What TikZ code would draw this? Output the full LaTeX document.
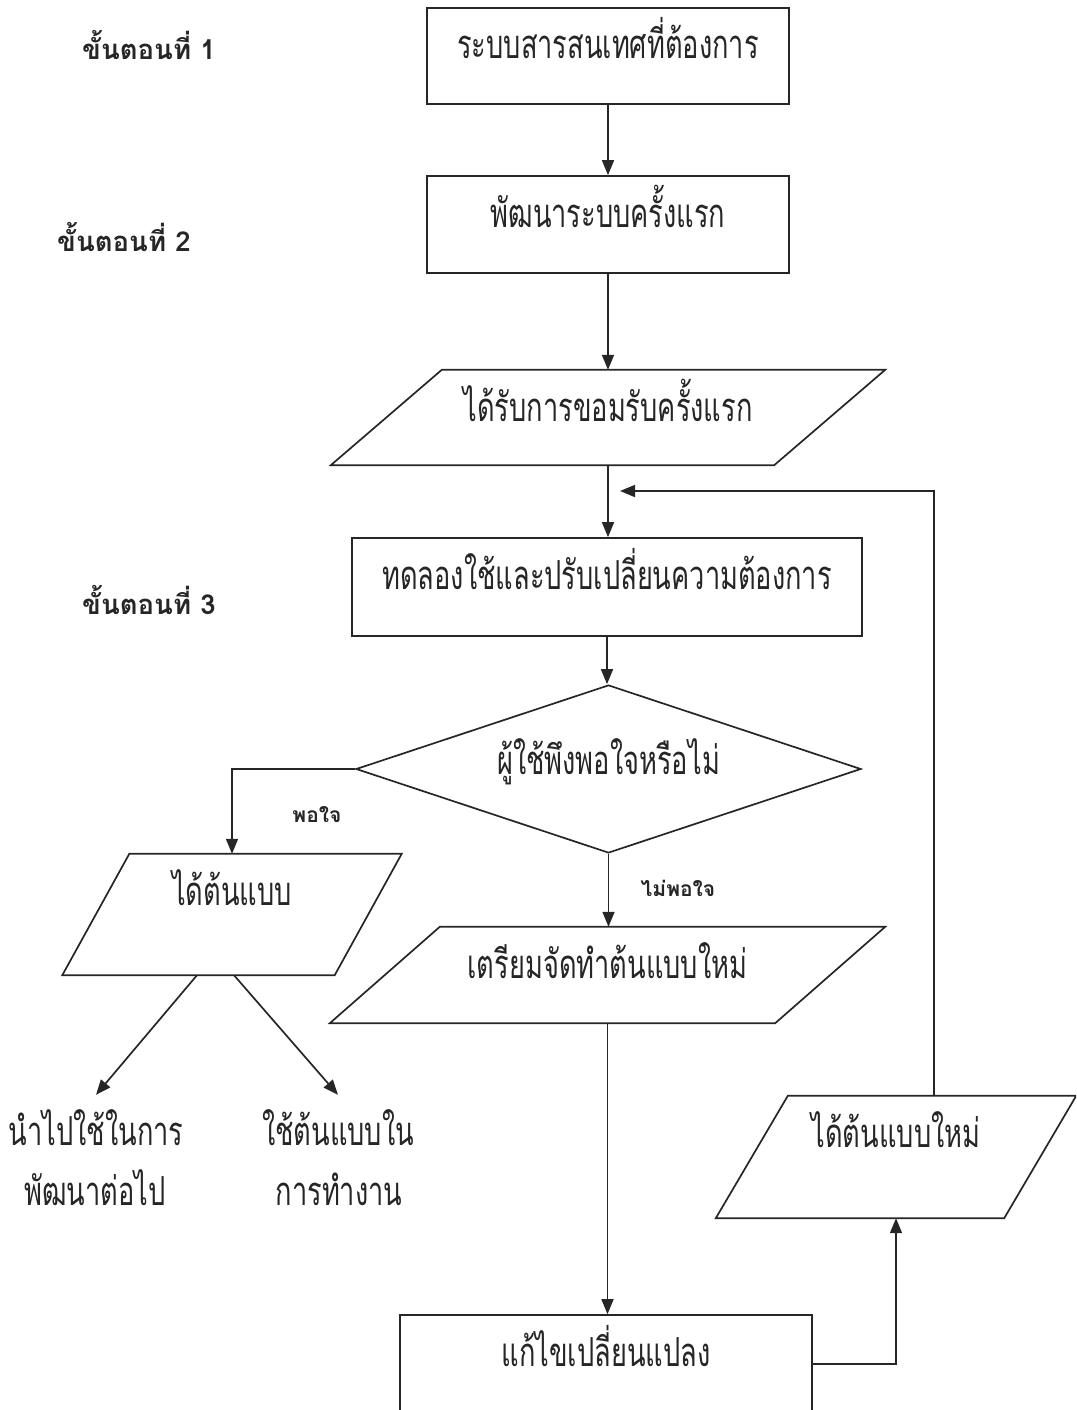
\documentclass[tikz,border=0pt]{standalone}
\usepackage{fontspec}
\newfontfamily\thai[Script=Thai,FakeStretch=0.68]{Loma}
\newfontfamily\thaiwide[Script=Thai]{Loma}
\usetikzlibrary{shapes.geometric,arrows.meta}
\begin{document}
\begin{tikzpicture}[x=1pt,y=-1pt,
  ink/.style={draw=black!85, line width=1.7pt},
  arr/.style={ink, -{Triangle[length=15pt,width=12pt]}},
  body/.style={font=\thai\fontsize{40}{48}\selectfont, text=black!85},
  shp/.style={body, inner sep=0pt, text depth=30pt, text height=#1},
  box/.style={shp=#1, ink, rectangle},
  para/.style={shp=#1, rectangle},
  dec/.style={shp=#1, ink, diamond},
  plain/.style={body, inner sep=0pt, text height=50pt, anchor=base},
  steplabel/.style={font=\thaiwide\bfseries\fontsize{27.5}{33}\selectfont, text=black!85, inner sep=0pt, anchor=base west},
  answer/.style={font=\thaiwide\bfseries\fontsize{21}{25}\selectfont, text=black!85, inner sep=0pt, anchor=base}
]
\newcommand\slantframe[2]{\draw[ink] ([xshift=-#2]#1.south west) -- ([xshift=#2]#1.north west) -- ([xshift=#2]#1.north east) -- ([xshift=-#2]#1.south east) -- cycle;}
\clip (0,0) rectangle (1076,1410);

% step labels
\node[steplabel] (s1) at (82,60) {ขั้นตอนที่ 1};
\node[steplabel] (s2) at (57,251) {ขั้นตอนที่ 2};
\node[steplabel] (s3) at (82,614) {ขั้นตอนที่ 3};

% main column
\node[box=36pt, minimum width=362pt, minimum height=96pt] (b1) at (608,56) {ระบบสารสนเทศที่ต้องการ};
\node[box=35pt, minimum width=362pt, minimum height=97pt] (b2) at (608,224.5) {พัฒนาระบบครั้งแรก};
\node[para=37pt, minimum width=443pt, minimum height=95pt] (p1) at (608,417.5) {ได้รับการขอมรับครั้งแรก};
\slantframe{p1}{55.5pt}
\node[box=34pt, minimum width=510pt, minimum height=98pt] (b3) at (607,587) {ทดลองใช้และปรับเปลี่ยนความต้องการ};
\node[dec=40pt, aspect=3, minimum width=505pt, minimum height=168pt] (d) at (608.5,769) {ผู้ใช้พึงพอใจหรือไม่};
\node[para=11pt, minimum width=272pt, minimum height=121pt] (p2) at (232,914.5) {ได้ต้นแบบ};
\slantframe{p2}{33.5pt}
\node[para=36pt, minimum width=445pt, minimum height=96pt] (p3) at (607.5,975) {เตรียมจัดทำต้นแบบใหม่};
\slantframe{p3}{55pt}
\node[para=10pt, minimum width=288pt, minimum height=122pt] (p4) at (896,1157) {ได้ต้นแบบใหม่};
\slantframe{p4}{36pt}
\node[box=34pt, minimum width=412pt, minimum height=98pt] (b4) at (606,1364) {แก้ไขเปลี่ยนแปลง};

% outcome texts
\node[plain] (t1) at (96,1145) {นำไปใช้ในการ};
\node[plain] (t1b) at (95,1205) {พัฒนาต่อไป};
\node[plain] (t2) at (338,1145) {ใช้ต้นแบบใน};
\node[plain] (t2b) at (339,1205) {การทำงาน};

% answers
\node[answer] (yes) at (317,822) {พอใจ};
\node[answer] (no) at (678,896) {ไม่พอใจ};

% connectors
\draw[arr] (b1.south) -- (b1.south |- b2.north);
\draw[arr] (b2.south) -- (b2.south |- p1.north);
\draw[arr] (p1.south) -- (p1.south |- b3.north);
\draw[arr] (b3.south) -- (b3.south |- d.north);
\draw[arr] (d.west) -| (p2.north);
\draw[arr] (d.south) -- (d.south |- p3.north);
\draw[arr] (p3.south) -- (p3.south |- b4.north);
\draw[arr] (b4.east) -| (p4.south);
\coordinate (fb) at (620,491);
\draw[arr] ([xshift=38pt]p4.north) |- (fb);
\draw[arr] ([xshift=-35pt]p2.south) -- (t1.north);
\draw[arr] ([xshift=2pt]p2.south) -- (t2.north);
\end{tikzpicture}
\end{document}
